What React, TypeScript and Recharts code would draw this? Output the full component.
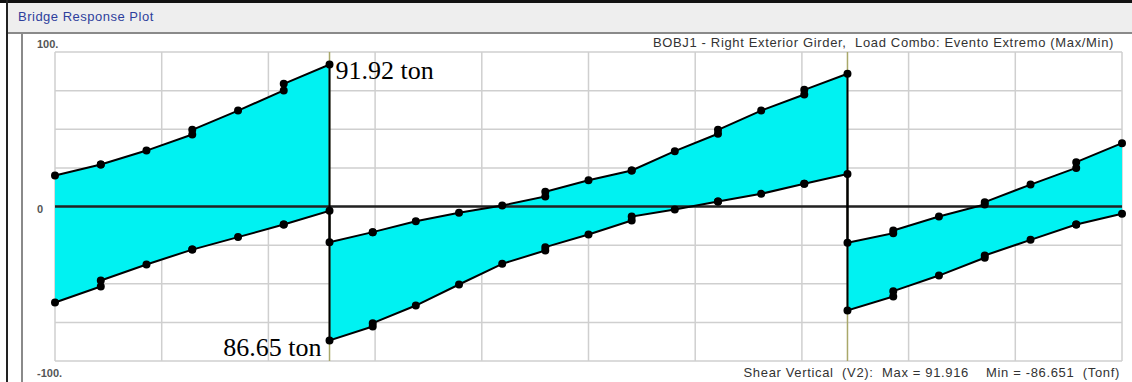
import { ComposedChart, Area, Line, XAxis, YAxis, CartesianGrid, ReferenceLine, ReferenceDot } from "recharts"

// stations along the girder (m); a station repeats where the shear jumps
const station = [
  0, 4.42, 4.42, 8.83, 13.25, 13.25, 17.67, 22.08, 22.08, 26.5,
  26.5, 30.67, 30.67, 34.83, 39, 43.17, 47.33, 47.33, 51.5, 55.67, 55.67, 59.83, 64, 64, 68.17, 72.33, 72.33, 76.5,
  76.5, 80.92, 80.92, 85.33, 89.75, 89.75, 94.17, 98.58, 98.58, 103,
]
// envelope of shear V2 (Tonf)
const shearMax = [
  20.1, 27.2, 27.2, 36.2, 46.6, 49.6, 62.1, 75.1, 79.4, 91.916,
  -23.1, -16.6, -16.6, -9.5, -4.1, 0.6, 6.5, 9.5, 17.0, 23.3, 23.3, 35.8, 47.1, 49.6, 62.1, 72.5, 75.5, 85.9,
  -23.5, -17.3, -15.5, -6.5, 1.3, 2.8, 14.2, 25.0, 28.7, 41.0,
]
const shearMin = [
  -62.1, -51.8, -47.9, -37.5, -27.9, -27.9, -19.8, -11.7, -11.7, -2.8,
  -86.651, -77.7, -75.5, -64.1, -50.5, -37.1, -28.5, -26.3, -18.1, -9.1, -6.5, -1.9, 3.2, 3.2, 8.2, 14.7, 14.7, 21.1,
  -67.3, -58.3, -54.8, -44.7, -33.2, -31.7, -21.6, -11.7, -11.7, -4.7,
]
const supports = [26.5, 76.5]
const xGrid = [0, 10.3, 20.6, 30.9, 41.2, 51.5, 61.8, 72.1, 82.4, 92.7, 103]
const yGrid = [-100, -75, -50, -25, 0, 25, 50, 75, 100]
const yLabelValues = [-100, 0, 100]
const yLabelText = ["-100.", "0", "100."]

type Row = { x: number; max: number; min: number }
const data: Row[] = station.map((x, i) => ({ x, max: shearMax[i], min: shearMin[i] }))

const maxIdx = shearMax.indexOf(Math.max(...shearMax))
const minIdx = shearMin.indexOf(Math.min(...shearMin))

const sans = '"Liberation Sans", Arial, sans-serif'
const serif = '"Liberation Serif", "Times New Roman", serif'

function YTick(props: any) {
  const { x, y, payload } = props
  const i = yLabelValues.indexOf(payload.value)
  if (i < 0) return <g />
  const shift = payload.value > 0 ? -8 : payload.value < 0 ? 12 : 3
  return (
    <text x={x - 18} y={y + shift} dy="0.35em" textAnchor="start" fontFamily={sans} fontSize={11} fontWeight="bold" fill="#555">
      {yLabelText[i]}
    </text>
  )
}

export default function App() {
  return (
    <div style={{ position: "absolute", left: 0, top: 0, width: 1132, height: 382, background: "#fff", overflow: "hidden", fontFamily: sans }}>
      {/* window chrome */}
      <div style={{ position: "absolute", left: 0, top: 0, width: 1132, height: 3, background: "#111" }} />
      <div style={{ position: "absolute", left: 6, top: 0, width: 2, height: 382, background: "#222" }} />
      <div style={{ position: "absolute", left: 8, top: 3, width: 1124, height: 29, background: "#eeeeee", borderBottom: "2px solid #8a8a8a" }} />
      <div style={{ position: "absolute", left: 18, top: 9, fontSize: 13, letterSpacing: 0.5, color: "#2e3f9c" }}>Bridge Response Plot</div>
      <div style={{ position: "absolute", left: 21, top: 33, width: 2, height: 349, background: "#8a8a8a" }} />

      <div style={{ position: "absolute", left: 0, top: 0 }}>
        <ComposedChart width={1132} height={382} data={data} margin={{ top: 52, right: 10, bottom: 21, left: 22 }}>
          <CartesianGrid stroke="#cfcfcf" strokeWidth={1.5} />
          <XAxis dataKey="x" type="number" domain={[0, 103]} ticks={xGrid} hide />
          <YAxis
            type="number"
            domain={[-100, 100]}
            ticks={yGrid}
            width={33}
            axisLine={false}
            tickLine={false}
            tickSize={0}
            tickMargin={0}
            interval={0}
            tick={YTick}
          />
          <Area
            type="linear"
            dataKey={(d: Row) => [d.min, d.max]}
            stroke="none"
            fill="#00f2f2"
            fillOpacity={1}
            isAnimationActive={false}
          />
          {supports.map((s) => (
            <ReferenceLine key={s} x={s} stroke="#a9a86a" strokeWidth={1.5} />
          ))}
          <ReferenceLine y={0} stroke="#222" strokeWidth={2.5} />
          <Line type="linear" dataKey="max" stroke="#000" strokeWidth={2} dot={{ r: 3, fill: "#000", stroke: "#000" }} isAnimationActive={false} />
          <Line type="linear" dataKey="min" stroke="#000" strokeWidth={2} dot={{ r: 3, fill: "#000", stroke: "#000" }} isAnimationActive={false} />
          <ReferenceDot
            x={station[maxIdx]}
            y={shearMax[maxIdx]}
            r={3}
            shape={(p: any) => (
              <text x={p.cx + 6} y={p.cy + 15} fontFamily={serif} fontSize={26} fill="#000">
                {shearMax[maxIdx].toFixed(2)} ton
              </text>
            )}
          />
          <ReferenceDot
            x={station[minIdx]}
            y={shearMin[minIdx]}
            r={3}
            shape={(p: any) => (
              <text x={p.cx - 8} y={p.cy + 16} textAnchor="end" fontFamily={serif} fontSize={26} fill="#000">
                {Math.abs(shearMin[minIdx]).toFixed(2)} ton
              </text>
            )}
          />
        </ComposedChart>
      </div>

      <div style={{ position: "absolute", right: 18, top: 35, fontSize: 13, letterSpacing: 0.65, color: "#333", whiteSpace: "pre" }}>
        {"BOBJ1 - Right Exterior Girder,  Load Combo: Evento Extremo (Max/Min)"}
      </div>
      <div style={{ position: "absolute", right: 12, top: 365, fontSize: 13, letterSpacing: 0.65, color: "#333", whiteSpace: "pre" }}>
        {`Shear Vertical  (V2):  Max = ${shearMax[maxIdx].toFixed(3)}    Min = ${shearMin[minIdx].toFixed(3)}  (Tonf)`}
      </div>
    </div>
  )
}
